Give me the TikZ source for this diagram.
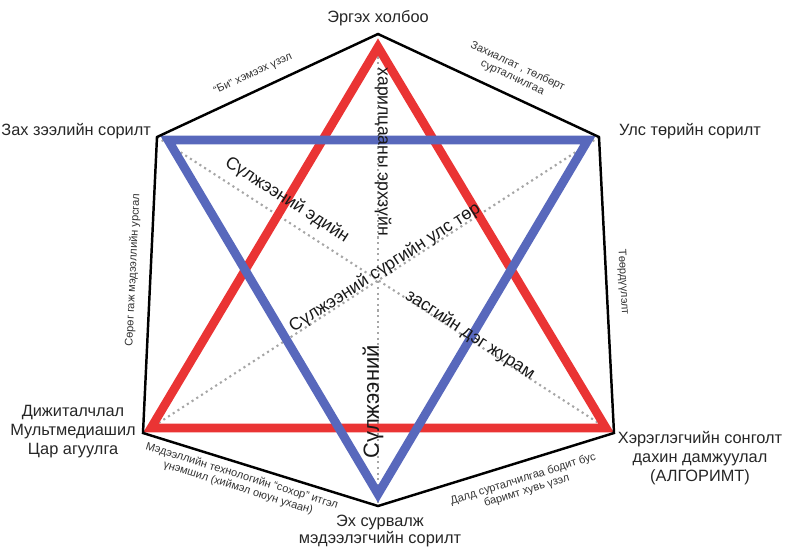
\documentclass[tikz,border=0pt]{standalone}
\usepackage{fontspec}
\setmainfont{Liberation Sans}
\definecolor{starred}{RGB}{234,52,52}
\definecolor{starblue}{RGB}{88,104,188}
\tikzset{
    corner/.style={font=\fontsize{9.3}{10.8}\selectfont,text=black!85,align=center,inner sep=1pt},
    edgetxt/.style={font=\fontsize{6.3}{7}\selectfont,text=black!80,align=center,inner sep=0pt},
    midtxt/.style={font=\fontsize{10}{12}\selectfont,text=black!90,inner sep=0pt},
    tri/.style={line width=5pt,line join=miter},
}
\begin{document}
\begin{tikzpicture}[x=0.02cm,y=-0.02cm]
        \useasboundingbox (0,0) rectangle (785,549);
        \coordinate (T) at (378,34);
        \coordinate (UL) at (157,137);
        \coordinate (UR) at (599,137);
        \coordinate (LR) at (614,433);
        \coordinate (B) at (378,506);
        \coordinate (LL) at (143,433);
        \foreach \a/\b in {T/B,UL/LR,UR/LL}
            {\draw[gray!70,dotted,line width=1.2pt](\a)--(\b);}
        \draw[starred,tri](378,47)--(151,428)--(606,428)--cycle;
        \draw[starblue,tri](168,140)--(588,140)--(378,494)--cycle;
        \draw[line width=1.4pt,line join=miter](T)--(UR)--(LR)--(B)--(LL)--(UL)--cycle;
        % corner labels
        \node[corner](lt) at (378,18){Эргэх холбоо};
        \node[corner,anchor=east](lul) at (153,131){Зах зээлийн сорилт};
        \node[corner,anchor=west](lur) at (617,131){Улс төрийн сорилт};
        \node[corner](lll) at (73,432){Дижиталчлал\\Мультмедиашил\\Цар агуулга};
        \node[corner](llr) at (700,458){Хэрэглэгчийн сонголт\\дахин дамжуулал\\(АЛГОРИМТ)};
        \node[corner,font=\fontsize{9.3}{10}\selectfont](lb) at (380,531){Эх сурвалж\\мэдээлэгчийн сорилт};
        % edge labels
        \node[edgetxt,rotate=24.8](etl) at (253,74){“Би” хэмээх үзэл};
        \node[edgetxt,rotate=-24.9](etr) at (515,72){Захиалгат , төлбөрт\\сурталчилгаа};
        \node[edgetxt,rotate=87.3](el) at (133,270){Сөрөг гаж мэдээллийн урсгал};
        \node[edgetxt,rotate=-87](er) at (623,282){Төөрдүүлэлт};
        \node[edgetxt,rotate=-17.3](ebl) at (240,482){Мэдээллийн технологийн “сохор” итгэл\\үнэмшил (хиймэл оюун ухаан)};
        \node[edgetxt,rotate=17.2](ebr) at (525,485){Далд сурталчилгаа бодит бус\\баримт хувь үзэл};
        % middle labels
        \node[midtxt,rotate=-90](mt) at (383,152){харилцааны эрхзүйн};
        \node[midtxt,rotate=90,font=\fontsize{12.5}{14}\selectfont](mb) at (373,402){Сүлжээний};
        \node[midtxt,rotate=-32.8](ml) at (287,200){Сүлжээний эдийн};
        \node[midtxt,rotate=-32.8](mr) at (470,335){засгийн дэг журам};
        \node[midtxt,rotate=32.9](mc) at (385,268){Сүлжээний сүргийн улс төр};
\end{tikzpicture}
\end{document}
